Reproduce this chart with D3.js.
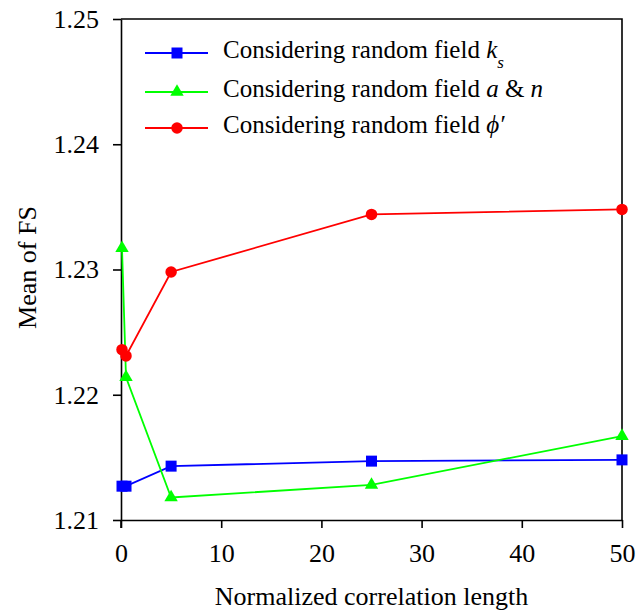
<!DOCTYPE html>
<html>
<head>
<meta charset="utf-8">
<script src="https://cdn.jsdelivr.net/npm/d3@7"></script>
<style>
  body { margin: 0; background: #fff; }
  svg text { font-family: "Liberation Serif", "Times New Roman", serif; fill: #000; }
</style>
</head>
<body>
<div id="chart"></div>
<script>
// correlation lengths (x) and mean FS for each random field
const lengths = [0.1, 0.5, 5, 25, 50];
const ksValues = [1.2127, 1.2127, 1.2143, 1.2147, 1.2148];
const anValues = [1.2317, 1.2214, 1.2118, 1.2128, 1.2167];
const phiValues = [1.2236, 1.2231, 1.2298, 1.2344, 1.2348];
const xTicks = [0, 10, 20, 30, 40, 50];
const yTicks = [1.21, 1.22, 1.23, 1.24, 1.25];

const width = 644, height = 612;
const margin = { top: 19, right: 22, bottom: 92, left: 121 };
const w = width - margin.left - margin.right;
const h = height - margin.top - margin.bottom;

const svg = d3.select("#chart").append("svg")
  .attr("width", width)
  .attr("height", height);

const g = svg.append("g")
  .attr("transform", `translate(${margin.left},${margin.top})`);

const x = d3.scaleLinear().domain([0, 50]).range([0, w]);
const y = d3.scaleLinear().domain([1.21, 1.25]).range([h, 0]);

// frame (top and right edges)
g.append("path")
  .attr("d", `M0,0H${w}V${h}`)
  .attr("fill", "none")
  .attr("stroke", "#000")
  .attr("stroke-width", 1.6);

const xAxis = g.append("g")
  .attr("transform", `translate(0,${h})`)
  .call(d3.axisBottom(x).tickValues(xTicks).tickSize(8).tickPadding(16).tickSizeOuter(0));

const yAxis = g.append("g")
  .call(d3.axisLeft(y).tickValues(yTicks).tickFormat(d3.format(".2f")).tickSize(8).tickPadding(14).tickSizeOuter(0));

[xAxis, yAxis].forEach(ax => {
  ax.attr("font-family", null);
  ax.select(".domain").attr("stroke-width", 1.6);
  ax.selectAll(".tick line").attr("stroke-width", 1.6);
  ax.selectAll("text")
    .style("font-family", '"Liberation Serif", serif')
    .style("font-size", "26px");
});

// y axis extends a little below the x axis
g.append("line")
  .attr("x1", 0).attr("x2", 0)
  .attr("y1", h).attr("y2", h + 8)
  .attr("stroke", "#000").attr("stroke-width", 1.6);

// axis titles
svg.append("text")
  .attr("x", margin.left + w / 2)
  .attr("y", 605)
  .attr("text-anchor", "middle")
  .style("font-size", "26px")
  .text("Normalized correlation length");

svg.append("text")
  .attr("transform", `translate(36,${margin.top + h / 2 - 2}) rotate(-90)`)
  .attr("text-anchor", "middle")
  .style("font-size", "26px")
  .text("Mean of FS");

const series = [
  { values: ksValues, color: "#0000ff", symbol: d3.symbolSquare, size: 121 },
  { values: anValues, color: "#00ff00", symbol: d3.symbolTriangle, size: 78 },
  { values: phiValues, color: "#ff0000", symbol: d3.symbolCircle, size: 104 }
];

const line = d3.line()
  .x(d => x(d[0]))
  .y(d => y(d[1]));

series.forEach(s => {
  const pts = lengths.map((l, i) => [l, s.values[i]]);
  g.append("path")
    .datum(pts)
    .attr("fill", "none")
    .attr("stroke", s.color)
    .attr("stroke-width", 1.8)
    .attr("d", line);
  g.selectAll(null)
    .data(pts)
    .enter().append("path")
    .attr("transform", d => `translate(${x(d[0])},${y(d[1])})`)
    .attr("d", d3.symbol().type(s.symbol).size(s.size))
    .attr("fill", s.color);
});

// legend
const legendRows = [53, 92, 128];
const legend = svg.append("g");
series.forEach((s, i) => {
  const ly = legendRows[i];
  legend.append("line")
    .attr("x1", 145).attr("x2", 208)
    .attr("y1", ly).attr("y2", ly)
    .attr("stroke", s.color).attr("stroke-width", 1.8);
  legend.append("path")
    .attr("transform", `translate(177,${ly})`)
    .attr("d", d3.symbol().type(s.symbol).size(s.size))
    .attr("fill", s.color);
});

const lt = (i) => legend.append("text")
  .attr("x", 223)
  .attr("y", legendRows[i] + 5)
  .style("font-size", "25px");

const t0 = lt(0);
t0.append("tspan").text("Considering random field ");
t0.append("tspan").style("font-style", "italic").text("k");
t0.append("tspan").style("font-style", "italic").style("font-size", "17px").attr("dy", 10).text("s");

const t1 = lt(1);
t1.append("tspan").text("Considering random field ");
t1.append("tspan").style("font-style", "italic").text("a");
t1.append("tspan").text(" & ");
t1.append("tspan").style("font-style", "italic").text("n");

const t2 = lt(2);
t2.append("tspan").text("Considering random field ");
t2.append("tspan").style("font-style", "italic").text("\u03d5\u2032");
</script>
</body>
</html>
